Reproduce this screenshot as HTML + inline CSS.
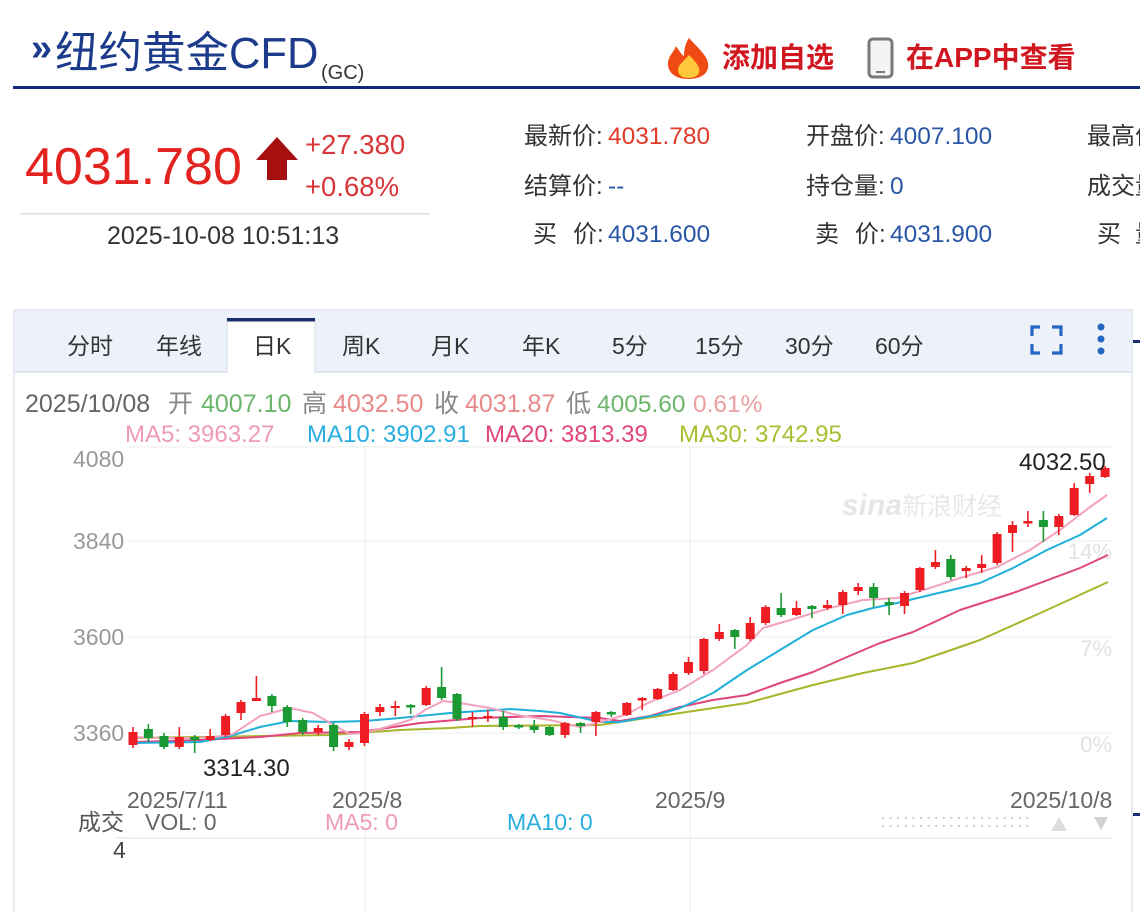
<!DOCTYPE html>
<html><head><meta charset="utf-8"><style>
html,body{margin:0;padding:0;background:#fff;width:1140px;height:912px;overflow:hidden}
svg{display:block}
text{font-family:"Liberation Sans","Noto Sans CJK SC",sans-serif}
</style></head><body>
<svg width="1140" height="912" viewBox="0 0 1140 912" xmlns="http://www.w3.org/2000/svg">
<rect width="1140" height="912" fill="#fff"/>
<!-- Header -->
<text x="31" y="60" font-size="38" font-weight="bold" fill="#1d3b8b">»</text>
<text x="55" y="68" font-size="43.5" fill="#1d3b8b">纽约黄金CFD</text>
<text x="321" y="79" font-size="20" fill="#333">(GC)</text>
<rect x="13" y="86" width="1127" height="3" fill="#0e2a7a"/>
<!-- flame -->
<path d="M689,38 C700,50 710,58 708,68 C706,76 698,79 688,79 C676,79 668,73 668,64 C668,56 674,52 676,46 C680,52 682,55 684,56 C684,50 685,44 689,38Z" fill="#f04a14"/>
<path d="M689,55 C696,62 701,68 699,73 C697,77 692,78 688,78 C682,78 678,75 678,70 C678,65 684,61 689,55Z" fill="#ffc83a"/>
<text x="722" y="67" font-size="28" font-weight="bold" fill="#d0161e">添加自选</text>
<!-- phone -->
<rect x="869" y="39" width="23" height="38" rx="4" fill="#f4f4f4" stroke="#7a7a7a" stroke-width="3"/>
<line x1="876" y1="72" x2="885" y2="72" stroke="#7a7a7a" stroke-width="2"/>
<text x="906" y="67" font-size="28" font-weight="bold" fill="#d0161e">在APP中查看</text>

<!-- price -->
<text x="25" y="184" font-size="52" fill="#e3231f">4031.780</text>
<polygon points="277,137 298,160 287,160 287,180 267,180 267,160 256,160" fill="#a50f0f"/>
<text x="305" y="154" font-size="27.5" fill="#d9363a">+27.380</text>
<text x="305" y="196" font-size="27.5" fill="#d9363a">+0.68%</text>
<rect x="20" y="213" width="410" height="1.5" fill="#dedede"/>
<text x="107" y="244" font-size="25" fill="#333">2025-10-08 10:51:13</text>

<!-- info columns -->
<g font-size="24" fill="#333">
<text x="524" y="144">最新价:</text>
<text x="524" y="194">结算价:</text>
<text x="533" y="242">买</text><text x="573" y="242">价:</text>
<text x="806" y="144">开盘价:</text>
<text x="806" y="194">持仓量:</text>
<text x="815" y="242">卖</text><text x="855" y="242">价:</text>
<text x="1087" y="144">最高价</text>
<text x="1087" y="194">成交量</text>
<text x="1097" y="242">买</text><text x="1135" y="242">量</text>
</g>
<g font-size="24.5">
<text x="608" y="144" fill="#e03a2a">4031.780</text>
<text x="608" y="194" fill="#2a56a6">--</text>
<text x="608" y="242" fill="#2a56a6">4031.600</text>
<text x="890" y="144" fill="#2a56a6">4007.100</text>
<text x="890" y="194" fill="#2a56a6">0</text>
<text x="890" y="242" fill="#2a56a6">4031.900</text>
</g>

<!-- chart panel -->
<rect x="14" y="310" width="1118" height="610" fill="#fff" stroke="#dbe2ee" stroke-width="1.5"/>
<rect x="15" y="311" width="1116" height="61" fill="#edf2fa"/>
<line x1="15" y1="372" x2="1131" y2="372" stroke="#d5deeb" stroke-width="1.5"/>
<rect x="227" y="318" width="88" height="55" fill="#fff"/>
<line x1="227" y1="373" x2="227" y2="318" stroke="#d5deeb" stroke-width="1"/>
<line x1="315" y1="373" x2="315" y2="318" stroke="#d5deeb" stroke-width="1"/>
<rect x="227" y="318" width="88" height="3.5" fill="#1a2f6e"/>
<g font-size="23" fill="#333">
<text x="67" y="354">分时</text>
<text x="156" y="354">年线</text>
<text x="253" y="354">日K</text>
<text x="342" y="354">周K</text>
<text x="431" y="354">月K</text>
<text x="522" y="354">年K</text>
<text x="612" y="354">5分</text>
<text x="695" y="354">15分</text>
<text x="785" y="354">30分</text>
<text x="875" y="354">60分</text>
</g>
<g stroke="#2466c0" stroke-width="3.2" fill="none">
<path d="M1032,336 V327 H1040"/><path d="M1052,327 H1061 V336"/>
<path d="M1032,344 V353 H1040"/><path d="M1052,353 H1061 V344"/>
</g>
<g fill="#2466c0"><circle cx="1101" cy="327" r="3.5"/><circle cx="1101" cy="339" r="3.5"/><circle cx="1101" cy="351" r="3.5"/></g>
<rect x="1133" y="340" width="7" height="3" fill="#1a2f6e"/>
<rect x="1133" y="813" width="7" height="3" fill="#1a2f6e"/>

<!-- date row -->
<g font-size="25">
<text x="25" y="412" fill="#666">2025/10/08</text>
<text x="168" y="412" fill="#888">开</text>
<text x="201" y="412" fill="#6cb56c">4007.10</text>
<text x="302" y="412" fill="#888">高</text>
<text x="333" y="412" fill="#e88a8a">4032.50</text>
<text x="434" y="412" fill="#888">收</text>
<text x="465" y="412" fill="#e88a8a">4031.87</text>
<text x="566" y="412" fill="#888">低</text>
<text x="597" y="412" fill="#6cb56c" font-size="24.5">4005.60</text>
<text x="693" y="412" fill="#eba0a0" font-size="24.5">0.61%</text>
</g>
<g font-size="24">
<text x="125" y="442" fill="#ef9ab5">MA5: 3963.27</text>
<text x="307" y="442" fill="#29aee0">MA10: 3902.91</text>
<text x="485" y="442" fill="#e0467c">MA20: 3813.39</text>
<text x="679" y="442" fill="#a8c030">MA30: 3742.95</text>
</g>

<!-- grid -->
<g stroke="#f1f1f1" stroke-width="1.2">
<line x1="128" y1="447" x2="1112" y2="447"/>
<line x1="128" y1="541" x2="1112" y2="541"/>
<line x1="128" y1="637" x2="1112" y2="637"/>
<line x1="128" y1="733" x2="1112" y2="733"/>
<line x1="365" y1="447" x2="365" y2="912"/>
<line x1="690" y1="447" x2="690" y2="912"/>
</g>
<line x1="115" y1="838" x2="1112" y2="838" stroke="#eaeaea" stroke-width="1.5"/>

<!-- watermark -->
<text x="842" y="515" font-size="30" font-style="italic" font-weight="bold" fill="#e6e6e6">sina</text>
<text x="902" y="515" font-size="25" fill="#e8e8e8">新浪财经</text>
<g font-size="22" fill="#e2e2e2" text-anchor="end">
<text x="1112" y="559">14%</text>
<text x="1112" y="656">7%</text>
<text x="1112" y="752">0%</text>
</g>

<!-- y labels -->
<g font-size="23" fill="#999">
<text x="73" y="467">4080</text>
<text x="73" y="549">3840</text>
<text x="73" y="645">3600</text>
<text x="73" y="741">3360</text>
</g>

<!-- MA lines -->
<g fill="none" stroke-width="2" stroke-linejoin="round">
<polyline stroke="#a8b52a" points="133,738 330,735 400,730 450,728 480,726 600,725 680,713 747,703 813,685 863,673 913,663 960,647 980,640 1047,610 1108,582"/>
<polyline stroke="#e0457b" points="133,742 200,740 260,737 300,733 360,732 420,723 480,718 540,716 600,718 620,721 650,716 680,707 713,700 747,695 780,683 813,672 847,657 880,643 913,632 960,610 1013,593 1080,568 1108,555"/>
<polyline stroke="#1fb0da" points="133,743 200,742 230,736 260,727 290,721 330,722 365,721 400,718 450,713 480,711 510,709 540,711 560,713 600,722 620,722 657,715 680,708 713,693 747,670 780,650 813,630 847,615 873,608 897,603 930,595 960,588 980,583 1013,568 1047,550 1080,535 1107,518"/>
<polyline stroke="#f2a3bd" points="133,737 160,738 195,738 215,737 233,734 260,716 290,708 313,713 337,727 350,734 365,733 390,726 410,720 425,710 443,701 460,703 490,708 517,715 550,720 580,727 600,722 625,715 650,702 680,690 713,670 747,645 763,628 797,618 830,608 863,600 897,598 930,588 960,578 997,567 1030,550 1060,530 1090,507 1107,495"/>
</g>

<!-- red candles -->
<g fill="#ee1d23" stroke="#ee1d23" stroke-width="1.6">
<line x1="133" y1="727" x2="133" y2="748"/><rect x="128.5" y="732" width="9" height="13" stroke="none"/>
<line x1="179.3" y1="727" x2="179.3" y2="749"/><rect x="174.8" y="737" width="9" height="10" stroke="none"/>
<line x1="210.2" y1="729" x2="210.2" y2="741"/><rect x="205.7" y="736" width="9" height="4" stroke="none"/>
<line x1="225.6" y1="714" x2="225.6" y2="737"/><rect x="221.1" y="716" width="9" height="19" stroke="none"/>
<line x1="241" y1="700" x2="241" y2="720"/><rect x="236.5" y="702" width="9" height="11" stroke="none"/>
<line x1="256.4" y1="676" x2="256.4" y2="701"/><rect x="251.9" y="698" width="9" height="3" stroke="none"/>
<line x1="318.2" y1="725" x2="318.2" y2="735"/><rect x="313.7" y="728" width="9" height="4" stroke="none"/>
<line x1="349" y1="739" x2="349" y2="750"/><rect x="344.5" y="742" width="9" height="5" stroke="none"/>
<line x1="364.5" y1="712" x2="364.5" y2="746"/><rect x="360" y="714" width="9" height="29" stroke="none"/>
<line x1="379.9" y1="704" x2="379.9" y2="716"/><rect x="375.4" y="707" width="9" height="5" stroke="none"/>
<line x1="395.3" y1="701" x2="395.3" y2="716"/><rect x="390.8" y="706" width="9" height="2" stroke="none"/>
<line x1="426.2" y1="686" x2="426.2" y2="706"/><rect x="421.7" y="688" width="9" height="17" stroke="none"/>
<line x1="472.5" y1="712" x2="472.5" y2="727"/><rect x="468" y="717" width="9" height="2" stroke="none"/>
<line x1="487.9" y1="710" x2="487.9" y2="722"/><rect x="483.4" y="716" width="9" height="2" stroke="none"/>
<line x1="565" y1="722" x2="565" y2="738"/><rect x="560.5" y="723" width="9" height="12" stroke="none"/>
<line x1="595.9" y1="711" x2="595.9" y2="736"/><rect x="591.4" y="712" width="9" height="10" stroke="none"/>
<line x1="626.8" y1="702" x2="626.8" y2="716"/><rect x="622.3" y="703" width="9" height="12" stroke="none"/>
<line x1="642.2" y1="697" x2="642.2" y2="710"/><rect x="637.7" y="698" width="9" height="2.5" stroke="none"/>
<line x1="657.6" y1="688" x2="657.6" y2="700"/><rect x="653.1" y="689" width="9" height="10" stroke="none"/>
<line x1="673.1" y1="672" x2="673.1" y2="691"/><rect x="668.6" y="674" width="9" height="16" stroke="none"/>
<line x1="688.5" y1="657" x2="688.5" y2="675"/><rect x="684" y="662" width="9" height="11" stroke="none"/>
<line x1="703.9" y1="638" x2="703.9" y2="674"/><rect x="699.4" y="639" width="9" height="32" stroke="none"/>
<line x1="719.3" y1="624" x2="719.3" y2="641"/><rect x="714.8" y="632" width="9" height="7" stroke="none"/>
<line x1="750.2" y1="617" x2="750.2" y2="641"/><rect x="745.7" y="623" width="9" height="16" stroke="none"/>
<line x1="765.6" y1="605" x2="765.6" y2="625"/><rect x="761.1" y="607" width="9" height="16" stroke="none"/>
<line x1="796.5" y1="601" x2="796.5" y2="616"/><rect x="792" y="608" width="9" height="7" stroke="none"/>
<line x1="827.4" y1="600" x2="827.4" y2="610"/><rect x="822.9" y="605" width="9" height="3" stroke="none"/>
<line x1="842.8" y1="590" x2="842.8" y2="614"/><rect x="838.3" y="592" width="9" height="13" stroke="none"/>
<line x1="858.2" y1="583" x2="858.2" y2="595"/><rect x="853.7" y="587" width="9" height="4" stroke="none"/>
<line x1="904.5" y1="591" x2="904.5" y2="614"/><rect x="900" y="593" width="9" height="13" stroke="none"/>
<line x1="919.9" y1="567" x2="919.9" y2="592"/><rect x="915.4" y="568" width="9" height="22" stroke="none"/>
<line x1="935.4" y1="550" x2="935.4" y2="569"/><rect x="930.9" y="562" width="9" height="5" stroke="none"/>
<line x1="966.2" y1="566" x2="966.2" y2="578"/><rect x="961.7" y="568" width="9" height="3" stroke="none"/>
<line x1="981.7" y1="555" x2="981.7" y2="573"/><rect x="977.2" y="564" width="9" height="4" stroke="none"/>
<line x1="997.1" y1="532" x2="997.1" y2="565"/><rect x="992.6" y="534" width="9" height="29" stroke="none"/>
<line x1="1012.5" y1="521" x2="1012.5" y2="552"/><rect x="1008" y="525" width="9" height="8" stroke="none"/>
<line x1="1027.9" y1="511" x2="1027.9" y2="527"/><rect x="1023.4" y="521" width="9" height="2.5" stroke="none"/>
<line x1="1058.8" y1="514" x2="1058.8" y2="535"/><rect x="1054.3" y="516" width="9" height="11" stroke="none"/>
<line x1="1074.2" y1="483" x2="1074.2" y2="516"/><rect x="1069.7" y="488" width="9" height="27" stroke="none"/>
<line x1="1089.7" y1="473" x2="1089.7" y2="493"/><rect x="1085.2" y="476" width="9" height="8" stroke="none"/>
<line x1="1105.1" y1="466" x2="1105.1" y2="478"/><rect x="1100.6" y="468" width="9" height="9" stroke="none"/>
</g>

<!-- green candles -->
<g fill="#1a9a33" stroke="#1a9a33" stroke-width="1.6">
<line x1="148.4" y1="724" x2="148.4" y2="742"/><rect x="143.9" y="729" width="9" height="9" stroke="none"/>
<line x1="163.9" y1="733" x2="163.9" y2="749"/><rect x="159.4" y="736" width="9" height="11" stroke="none"/>
<line x1="194.7" y1="735" x2="194.7" y2="753"/><rect x="190.2" y="737" width="9" height="3" stroke="none"/>
<line x1="271.9" y1="694" x2="271.9" y2="712"/><rect x="267.4" y="696" width="9" height="10" stroke="none"/>
<line x1="287.3" y1="705" x2="287.3" y2="727"/><rect x="282.8" y="707" width="9" height="15" stroke="none"/>
<line x1="302.7" y1="718" x2="302.7" y2="735"/><rect x="298.2" y="720" width="9" height="12" stroke="none"/>
<line x1="333.6" y1="723" x2="333.6" y2="751"/><rect x="329.1" y="725" width="9" height="22" stroke="none"/>
<line x1="410.7" y1="704" x2="410.7" y2="714"/><rect x="406.2" y="705" width="9" height="2.5" stroke="none"/>
<line x1="441.6" y1="667" x2="441.6" y2="700"/><rect x="437.1" y="687" width="9" height="11" stroke="none"/>
<line x1="457" y1="693" x2="457" y2="721"/><rect x="452.5" y="694" width="9" height="25" stroke="none"/>
<line x1="503.3" y1="711" x2="503.3" y2="730"/><rect x="498.8" y="717" width="9" height="10" stroke="none"/>
<line x1="518.8" y1="724" x2="518.8" y2="729"/><rect x="514.3" y="725" width="9" height="2.5" stroke="none"/>
<line x1="534.2" y1="720" x2="534.2" y2="733"/><rect x="529.7" y="726" width="9" height="4" stroke="none"/>
<line x1="549.6" y1="726" x2="549.6" y2="736"/><rect x="545.1" y="727" width="9" height="8" stroke="none"/>
<line x1="580.5" y1="722" x2="580.5" y2="733"/><rect x="576" y="723" width="9" height="3" stroke="none"/>
<line x1="611.3" y1="711" x2="611.3" y2="717"/><rect x="606.8" y="712" width="9" height="2.5" stroke="none"/>
<line x1="734.8" y1="629" x2="734.8" y2="649"/><rect x="730.3" y="630" width="9" height="7" stroke="none"/>
<line x1="781.1" y1="593" x2="781.1" y2="617"/><rect x="776.6" y="608" width="9" height="7" stroke="none"/>
<line x1="811.9" y1="605" x2="811.9" y2="618"/><rect x="807.4" y="606" width="9" height="3" stroke="none"/>
<line x1="873.6" y1="583" x2="873.6" y2="607"/><rect x="869.1" y="587" width="9" height="11" stroke="none"/>
<line x1="889.1" y1="598" x2="889.1" y2="615"/><rect x="884.6" y="602" width="9" height="3" stroke="none"/>
<line x1="950.8" y1="555" x2="950.8" y2="580"/><rect x="946.3" y="559" width="9" height="18" stroke="none"/>
<line x1="1043.4" y1="511" x2="1043.4" y2="542"/><rect x="1038.9" y="520" width="9" height="7" stroke="none"/>
</g>

<!-- annotations -->
<text x="1019" y="470" font-size="24" fill="#222">4032.50</text>
<text x="203" y="776" font-size="24" fill="#222">3314.30</text>
<g font-size="23" fill="#666">
<text x="127" y="808">2025/7/11</text>
<text x="332" y="808">2025/8</text>
<text x="655" y="808">2025/9</text>
<text x="1010" y="808">2025/10/8</text>
</g>

<!-- volume header -->
<g font-size="23">
<text x="78" y="830" fill="#555">成交</text>
<text x="145" y="830" fill="#666">VOL: 0</text>
<text x="325" y="830" fill="#ef9ab5">MA5: 0</text>
<text x="507" y="830" fill="#29aee0">MA10: 0</text>
<text x="113" y="858" fill="#444">4</text>
</g>
<g stroke="#cfcfcf" stroke-width="2" stroke-dasharray="2 5.6">
<line x1="882" y1="818" x2="1034" y2="818"/>
<line x1="882" y1="826" x2="1034" y2="826"/>
</g>
<polygon points="1051,831 1067,831 1059,817" fill="#dedede"/>
<polygon points="1094,817 1108,817 1101,830" fill="#d2d2d2"/>
</svg>
</body></html>
